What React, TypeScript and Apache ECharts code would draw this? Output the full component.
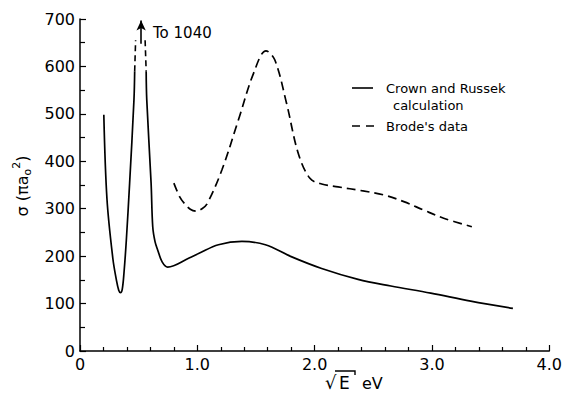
import React, { useEffect, useRef } from "react";
import * as echarts from "echarts";

// sqrt(E) (eV) vs sigma (pi a0^2)
const crownLeft: [number, number][] = [
  [0.203, 498], [0.23, 320], [0.28, 195], [0.31, 150], [0.33, 128], [0.345, 123],
  [0.36, 130], [0.375, 165], [0.395, 234], [0.423, 354], [0.46, 530], [0.466, 590],
];
const crownRight: [number, number][] = [
  [0.564, 590], [0.569, 530], [0.606, 354], [0.62, 262], [0.64, 230], [0.662, 213],
  [0.70, 188], [0.747, 177], [0.93, 196], [1.015, 206], [1.18, 224], [1.38, 231],
  [1.58, 224], [1.80, 199], [2.06, 174], [2.37, 151], [2.65, 137], [2.99, 122],
  [3.33, 105], [3.69, 90],
];
const peakDashLeft: [number, number][] = [[0.466, 590], [0.474, 655]];
const peakDashRight: [number, number][] = [[0.555, 655], [0.564, 590]];
const arrowFromTo: [number, number][] = [[0.521, 648], [0.521, 697]];
const brode: [number, number][] = [
  [0.80, 354], [0.85, 325], [0.89, 311], [0.94, 299], [0.99, 295], [1.04, 300],
  [1.085, 311], [1.21, 382], [1.35, 487], [1.48, 586], [1.585, 633], [1.66, 614],
  [1.76, 523], [1.86, 417], [1.96, 364], [2.06, 352], [2.20, 346], [2.40, 338],
  [2.59, 329], [2.76, 315], [2.93, 297], [3.10, 280], [3.34, 262],
];
const xTicks = [0, 1, 2, 3, 4];
const yTicks = [0, 100, 200, 300, 400, 500, 600, 700];
const legendNames = ["Crown and Russek", "calculation", "Brode's data"];
const offScaleNote = "To 1040";

const FONT = "DejaVu Sans";

export default function App() {
  const ref = useRef<HTMLDivElement>(null);
  useEffect(() => {
    if (!ref.current) return;
    const chart = echarts.init(ref.current, undefined, { renderer: "svg" });
    const solid = { color: "#000", width: 1.7 };
    const dashed = { color: "#000", width: 1.7, type: [9, 5] as any };
    const axisCommon = {
      type: "value",
      axisLine: { show: true, onZero: false, lineStyle: { color: "#000", width: 1.5 } },
      axisTick: { show: true, inside: true, length: 6, lineStyle: { color: "#000", width: 1.2 } },
      splitLine: { show: false },
    };
    chart.setOption({
      animation: false,
      backgroundColor: "#fff",
      grid: { left: 80, right: 12, top: 19, bottom: 49 },
      xAxis: {
        ...axisCommon,
        min: xTicks[0],
        max: xTicks[xTicks.length - 1],
        interval: 1,
        minorTick: { show: true, splitNumber: 5, length: 4, lineStyle: { color: "#000", width: 1.2 } },
        axisLabel: {
          color: "#000",
          fontSize: 16,
          fontFamily: FONT,
          margin: 5,
          formatter: (v: number) => (v === 0 ? "0" : v.toFixed(1)),
        },
      },
      yAxis: {
        ...axisCommon,
        min: yTicks[0],
        max: yTicks[yTicks.length - 1],
        interval: 100,
        minorTick: { show: true, splitNumber: 2, length: 5, lineStyle: { color: "#000", width: 1.2 } },
        axisLabel: { color: "#000", fontSize: 16, fontFamily: FONT, margin: 5 },
      },
      series: [
        {
          type: "line", data: crownLeft, showSymbol: false, symbol: "none",
          smooth: 0.35, lineStyle: solid, silent: true,
        },
        {
          type: "line", data: crownRight, showSymbol: false, symbol: "none",
          smooth: 0.35, lineStyle: solid, silent: true,
        },
        {
          type: "line", data: peakDashLeft, showSymbol: false, symbol: "none",
          lineStyle: { color: "#000", width: 1.6, type: [6, 4] as any }, silent: true,
          markLine: {
            silent: true,
            symbol: ["none", "arrow"],
            symbolSize: [7, 10],
            label: { show: false },
            lineStyle: { color: "#000", width: 1.6, type: "solid" },
            data: [[{ coord: arrowFromTo[0] }, { coord: arrowFromTo[1] }]],
          },
        },
        {
          type: "line", data: peakDashRight, showSymbol: false, symbol: "none",
          lineStyle: { color: "#000", width: 1.6, type: [6, 4] as any }, silent: true,
        },
        {
          type: "line", data: brode, showSymbol: false, symbol: "none",
          smooth: 0.35, lineStyle: dashed, silent: true,
        },
      ],
      graphic: [
        {
          type: "text", left: 153, top: 25,
          style: { text: offScaleNote, fontSize: 15, fontFamily: FONT, fill: "#000" },
        },
        // legend
        { type: "line", shape: { x1: 352, y1: 88, x2: 373, y2: 88 }, style: { stroke: "#000", lineWidth: 1.6 } },
        {
          type: "text", x: 386, y: 88,
          style: { text: legendNames[0], fontSize: 13, fontFamily: FONT, fill: "#000", verticalAlign: "middle" },
        },
        {
          type: "text", x: 393, y: 105,
          style: { text: legendNames[1], fontSize: 13, fontFamily: FONT, fill: "#000", verticalAlign: "middle" },
        },
        {
          type: "line", shape: { x1: 352, y1: 126, x2: 374, y2: 126 },
          style: { stroke: "#000", lineWidth: 1.6, lineDash: [8, 6] },
        },
        {
          type: "text", x: 386, y: 126,
          style: { text: legendNames[2], fontSize: 13, fontFamily: FONT, fill: "#000", verticalAlign: "middle" },
        },
        // x axis title: sqrt(E) eV
        {
          type: "text", x: 325, y: 382,
          style: { text: "√", fontSize: 18, fontFamily: FONT, fill: "#000", verticalAlign: "middle" },
        },
        {
          type: "text", x: 339, y: 383,
          style: { text: "E", fontSize: 17, fontFamily: FONT, fill: "#000", verticalAlign: "middle" },
        },
        {
          type: "polyline",
          shape: { points: [[335, 371], [355, 371], [355, 375]] },
          style: { stroke: "#000", lineWidth: 1.4, fill: "none" },
        },
        {
          type: "text", x: 362, y: 383,
          style: { text: "eV", fontSize: 16, fontFamily: FONT, fill: "#000", verticalAlign: "middle" },
        },
        // y axis title
        {
          type: "text", x: 22, y: 186, rotation: Math.PI / 2,
          style: {
            text: "{m|σ (πa}{b|o}{c|2}{m|)}",
            fontFamily: FONT,
            fill: "#000",
            align: "center",
            verticalAlign: "middle",
            rich: {
              m: { fontSize: 16, lineHeight: 22, fontFamily: FONT, fill: "#000" },
              b: { fontSize: 11, lineHeight: 12, verticalAlign: "bottom", fontFamily: FONT, fill: "#000" },
              c: { fontSize: 11, lineHeight: 12, verticalAlign: "top", fontFamily: FONT, fill: "#000" },
            },
          },
        },
      ],
    });
    return () => chart.dispose();
  }, []);
  return (
    <div
      ref={ref}
      style={{ position: "fixed", left: 0, top: 0, width: 565, height: 400, background: "#fff" }}
    />
  );
}
